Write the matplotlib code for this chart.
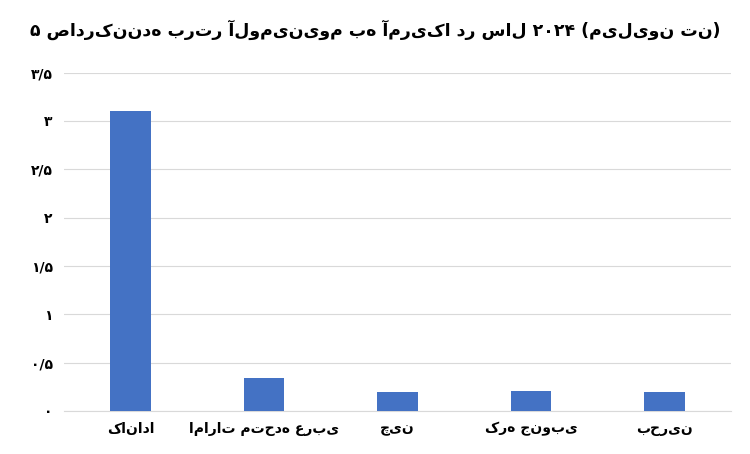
import matplotlib
matplotlib.use("Agg")
import matplotlib.pyplot as plt

categories = ["کانادا", "امارات متحده عربی", "چین", "کره جنوبی", "بحرین"]
values = [3.1, 0.34, 0.2, 0.21, 0.2]
yticks = [0, 0.5, 1, 1.5, 2, 2.5, 3, 3.5]
ytick_labels = ["۰", "۰/۵", "۱", "۱/۵", "۲", "۲/۵", "۳", "۳/۵"]
title = "۵ صادرکننده برتر آلومینیوم به آمریکا در سال ۲۰۲۴ (میلیون تن)"

plt.rcParams['font.family'] = ['DejaVu Sans']
fig = plt.figure(figsize=(7.5, 4.54), dpi=100)
ax = fig.add_axes([0.085, 0.095, 0.89, 0.745])
x = range(len(categories))
ax.bar(x, values, width=0.3, color="#4472C4", zorder=3)
ax.set_xticks(list(x))
ax.set_xticklabels(categories, fontsize=10, fontweight='bold')
ax.set_yticks(yticks)
ax.set_yticklabels(ytick_labels, fontsize=10, fontweight='bold')
ax.set_ylim(0, 3.5)
ax.set_xlim(-0.5, 4.5)
ax.grid(axis='y', color="#d9d9d9", linewidth=0.8, zorder=0)
for s in ax.spines.values():
    s.set_visible(False)
ax.spines['bottom'].set_visible(True)
ax.spines['bottom'].set_color("#d9d9d9")
ax.tick_params(length=0, pad=8)
fig.text(0.5, 0.935, title, ha='center', va='center', fontsize=12.5, fontweight='bold')
fig.savefig("out.png", dpi=100)
